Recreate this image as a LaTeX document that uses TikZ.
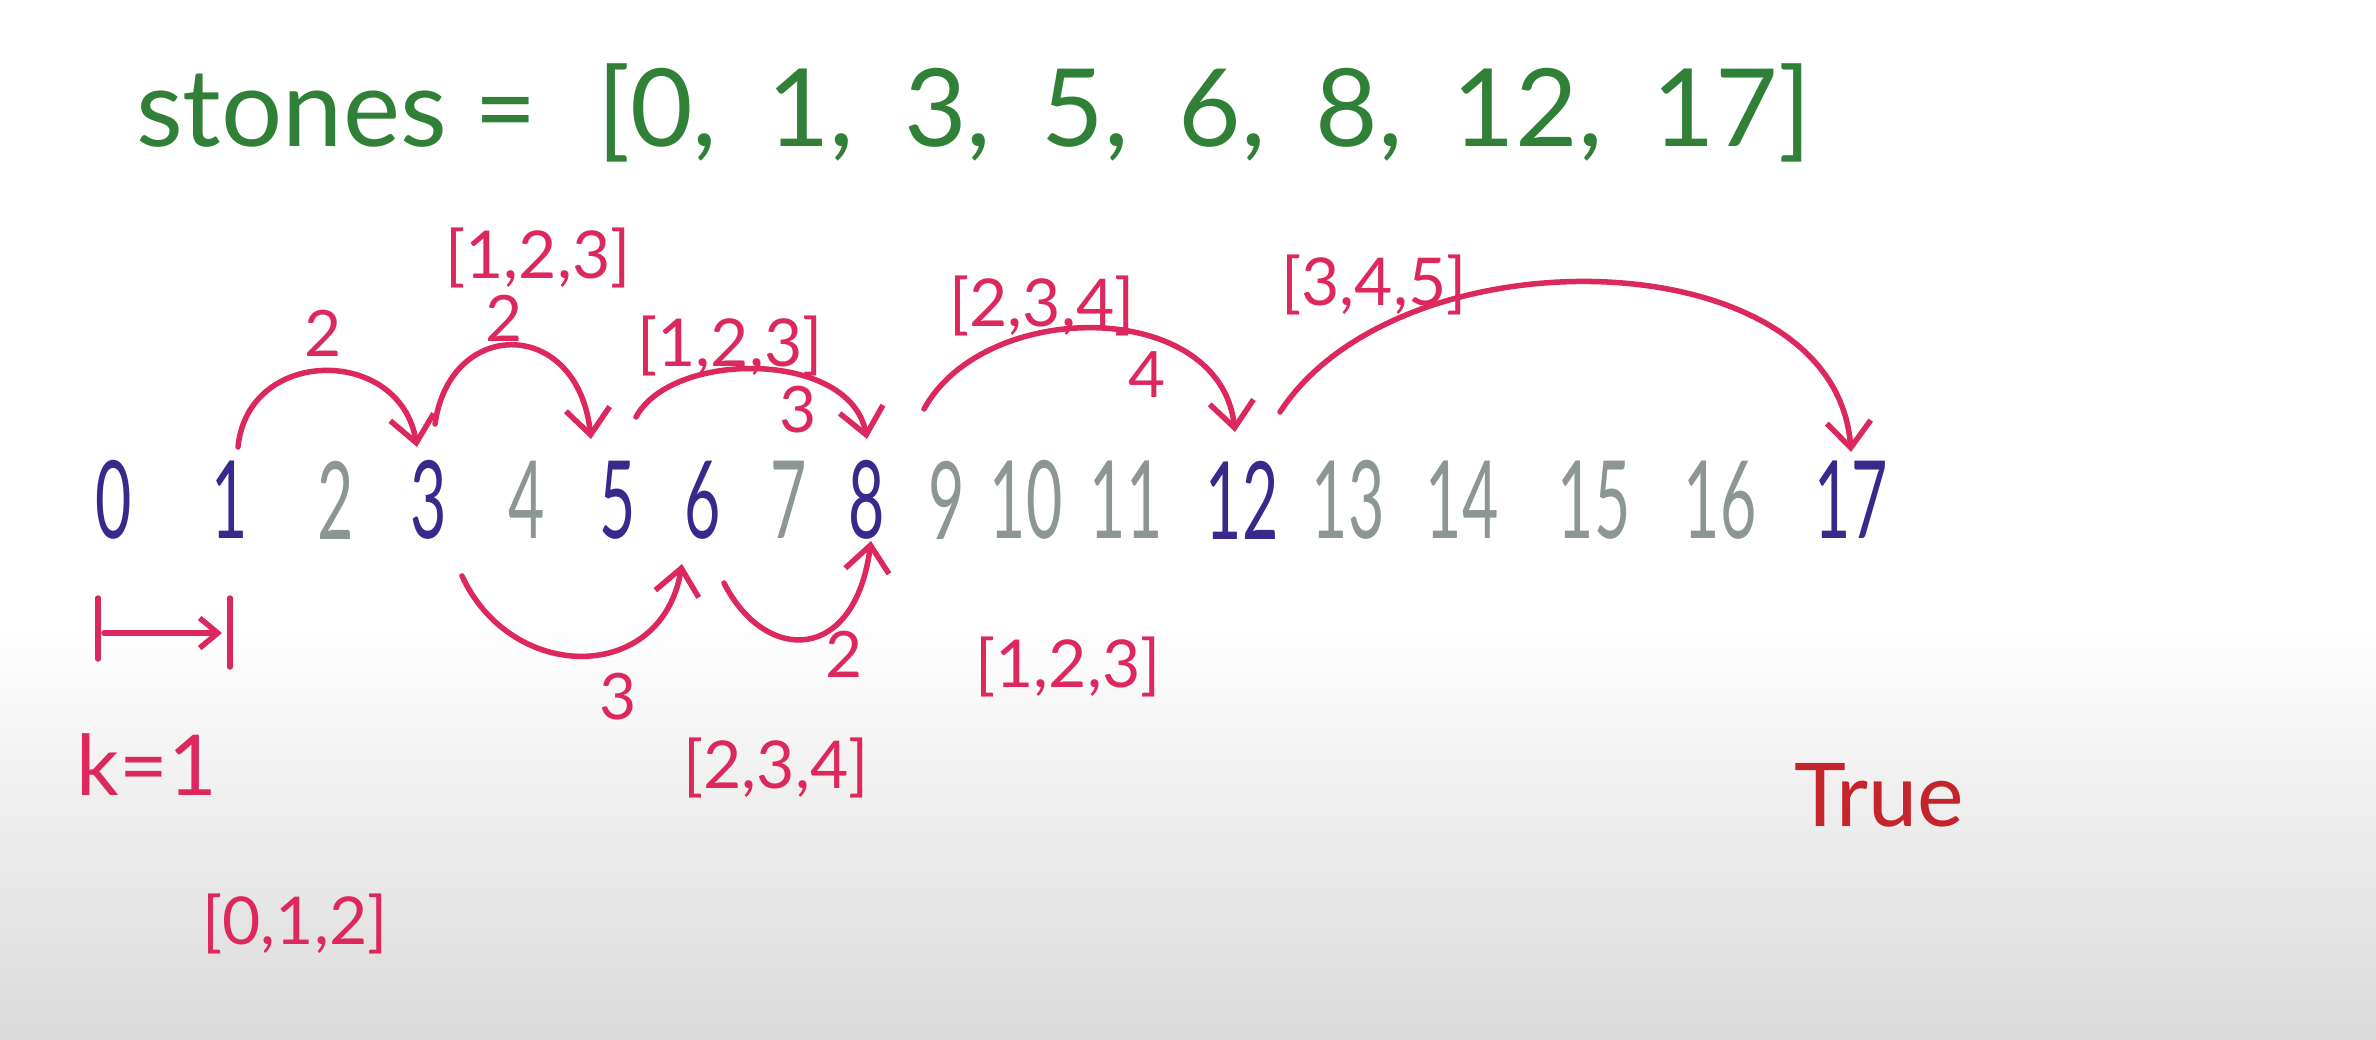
\documentclass[tikz,border=0pt]{standalone}
\usepackage{fontspec}
\usepackage{graphicx}
\setmainfont{Lato}
\usetikzlibrary{arrows.meta}
\definecolor{titlegreen}{RGB}{48,128,56}
\definecolor{stonepurple}{RGB}{58,40,140}
\definecolor{numgray}{RGB}{140,150,146}
\definecolor{inkpink}{RGB}{220,40,92}
\definecolor{truered}{RGB}{196,36,44}
\definecolor{bggray}{RGB}{218,218,218}
\newcommand{\narrow}[1]{\scalebox{0.58}[1]{#1}}
\begin{document}
\begin{tikzpicture}[x=1pt,y=-1pt,
  num/.style={font=\fontsize{108}{112}\selectfont, inner sep=0pt, anchor=center},
  stone/.style={num, text=stonepurple},
  other/.style={num, text=numgray},
  lbl/.style={font=\fontsize{66}{70}\selectfont, text=inkpink, inner sep=0pt, anchor=center},
  jumplbl/.style={font=\fontsize{64}{68}\selectfont, text=inkpink, inner sep=0pt, anchor=center},
  ink/.style={draw=inkpink, line width=5.5pt, line cap=round, line join=round},
  jump/.style={ink, -{Straight Barb[length=26pt,width=44pt,line width=5.5pt]}}
]
\useasboundingbox (0,0) rectangle (2376,1040);
\fill[white] (0,0) rectangle (2376,620);
\shade[top color=white, bottom color=bggray] (0,619) rectangle (2376,1040);

% title
\node[font=\fontsize{108}{115}\selectfont, text=titlegreen, inner sep=0pt, anchor=west] (title) at (136,113)
  {stones =\hspace{60pt}[0,\hspace{50pt}1,\hspace{50pt}3,\hspace{50pt}5,\hspace{50pt}6,\hspace{50pt}8,\hspace{50pt}12,\hspace{50pt}17]};

% number line
\node[stone] (n0) at (114,500) {\narrow{0}};
\node[stone] (n1) at (230,500) {\narrow{1}};
\node[other] (n2) at (336,500) {\narrow{2}};
\node[stone] (n3) at (429,500) {\narrow{3}};
\node[other] (n4) at (527,500) {\narrow{4}};
\node[stone] (n5) at (618,500) {\narrow{5}};
\node[stone] (n6) at (703,500) {\narrow{6}};
\node[other] (n7) at (789,500) {\narrow{7}};
\node[stone] (n8) at (867,500) {\narrow{8}};
\node[other] (n9) at (947,500) {\narrow{9}};
\node[other] (n10) at (1026,500) {\narrow{10}};
\node[other] (n11) at (1126,500) {\narrow{11}};
\node[stone] (n12) at (1242,500) {\narrow{12}};
\node[other] (n13) at (1348,500) {\narrow{13}};
\node[other] (n14) at (1462,500) {\narrow{14}};
\node[other] (n15) at (1594,500) {\narrow{15}};
\node[other] (n16) at (1720,500) {\narrow{16}};
\node[stone] (n17) at (1851,500) {\narrow{17}};

% arc endpoints
\coordinate (a1s) at (238,447); \coordinate (a1e) at (417,447);
\coordinate (a2s) at (435,424); \coordinate (a2e) at (591,439);
\coordinate (a3s) at (636,417); \coordinate (a3e) at (867,439);
\coordinate (a4s) at (924,409); \coordinate (a4e) at (1235,432);
\coordinate (a5s) at (1280,412); \coordinate (a5e) at (1851,452);
\coordinate (b1s) at (462,576); \coordinate (b1e) at (682,564);
\coordinate (b2s) at (724,583); \coordinate (b2e) at (871,541);

% top jumps
\draw[jump] (a1s) .. controls (248,346) and (400,346) .. (a1e);
\draw[jump] (a2s) .. controls (450,317) and (578,317) .. (a2e);
\draw[jump] (a3s) .. controls (672,350) and (850,350) .. (a3e);
\draw[jump] (a4s) .. controls (985,298) and (1220,298) .. (a4e);
\draw[jump] (a5s) .. controls (1400,228) and (1835,238) .. (a5e);

% bottom jumps
\draw[jump] (b1s) .. controls (512,684) and (662,684) .. (b1e);
\draw[jump] (b2s) .. controls (765,664) and (855,664) .. (b2e);

% jump sizes
\node[jumplbl] (j1) at (323,333) {2};
\node[jumplbl] (j2) at (504,318) {2};
\node[jumplbl] (j3) at (798,410) {3};
\node[jumplbl] (j4) at (1147,375) {4};
\node[jumplbl] (j5) at (618,697) {3};
\node[jumplbl] (j6) at (844,654) {2};

% candidate sets
\node[lbl] (s1) at (538,258) {[1,2,3]};
\node[lbl] (s2) at (730,346) {[1,2,3]};
\node[lbl] (s3) at (1042,306) {[2,3,4]};
\node[lbl] (s4) at (1374,285) {[3,4,5]};
\node[lbl] (s5) at (1068,667) {[1,2,3]};
\node[lbl] (s6) at (776,768) {[2,3,4]};
\node[lbl] (s7) at (295,924) {[0,1,2]};

% first jump k=1
\coordinate (k1t) at (98,598); \coordinate (k1b) at (98,659);
\coordinate (k2t) at (230,598); \coordinate (k2b) at (230,667);
\coordinate (kas) at (104,633); \coordinate (kae) at (222,633);
\draw[ink] (k1t) -- (k1b);
\draw[ink] (k2t) -- (k2b);
\draw[ink, -{Straight Barb[length=18pt,width=30pt,line width=5.5pt]}] (kas) -- (kae);
\node[font=\fontsize{84}{90}\selectfont, text=inkpink, inner sep=0pt] (k) at (147,765) {k=1};

% result
\node[font=\fontsize{88}{94}\selectfont, text=truered, inner sep=0pt] (res) at (1879,795) {True};
\end{tikzpicture}
\end{document}
